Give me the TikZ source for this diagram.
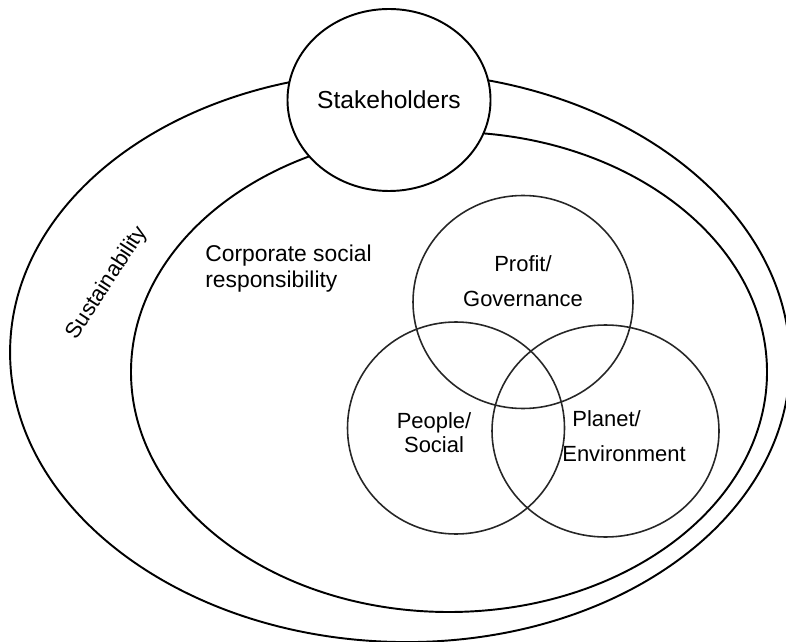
\documentclass[tikz,border=0pt]{standalone}
\usepackage{fontspec}
\setmainfont{Liberation Sans}
\usetikzlibrary{shapes.geometric}
\newcommand{\pxUnit}{0.02cm}
\tikzset{
	ring/.style={draw, line width=1.1pt},
	venn/.style={ellipse, draw=black!85, line width=0.9pt, inner sep=0pt},
	caption/.style={inner sep=0pt, align=center, font=\fontsize{12.5}{20}\selectfont},
}

\begin{document}
\begin{tikzpicture}[x=\pxUnit, y=-\pxUnit]
		\useasboundingbox (0,0) rectangle (786,641);
		\clip (0,0) rectangle (786,641);
		% sustainability and csr rings
		\draw[ring, rotate around={-1.5:(400,357)}] (400,357) ellipse [x radius=390, y radius=285];
		\draw[ring] (449,372) ellipse [x radius=318, y radius=240];
		\node[ring, ellipse, fill=white, inner sep=0pt, minimum width=194*\pxUnit, minimum height=182*\pxUnit,
			font=\fontsize{14}{16}\selectfont] (stakeholders) at (389,100) {Stakeholders};
		\node[inner sep=0pt, rotate=57, font=\fontsize{12.5}{15}\selectfont] (sustainability) at (107,283) {Sustainability};
		\node[inner sep=0pt, anchor=north west, align=left, font=\fontsize{13}{14.5}\selectfont] (csr) at (205,245)
			{Corporate social\\responsibility};
		% triple bottom line
		\node[venn, minimum width=220*\pxUnit, minimum height=213*\pxUnit] (profit) at (523,302) {};
		\node[venn, minimum width=217*\pxUnit, minimum height=212*\pxUnit] (people) at (456,428) {};
		\node[venn, minimum width=227*\pxUnit, minimum height=212*\pxUnit] (planet) at (605.5,431) {};
		\node[caption] (profitText) at (523,281) {Profit/\\Governance};
		\node[caption, font=\fontsize{12.5}{13.5}\selectfont] (peopleText) at (434,433) {People/\\Social};
		\node[caption, align=left, anchor=west] (planetText) at (562,436.5) {\hspace*{0.2cm}Planet/\\Environment};
	\end{tikzpicture}
\end{document}
